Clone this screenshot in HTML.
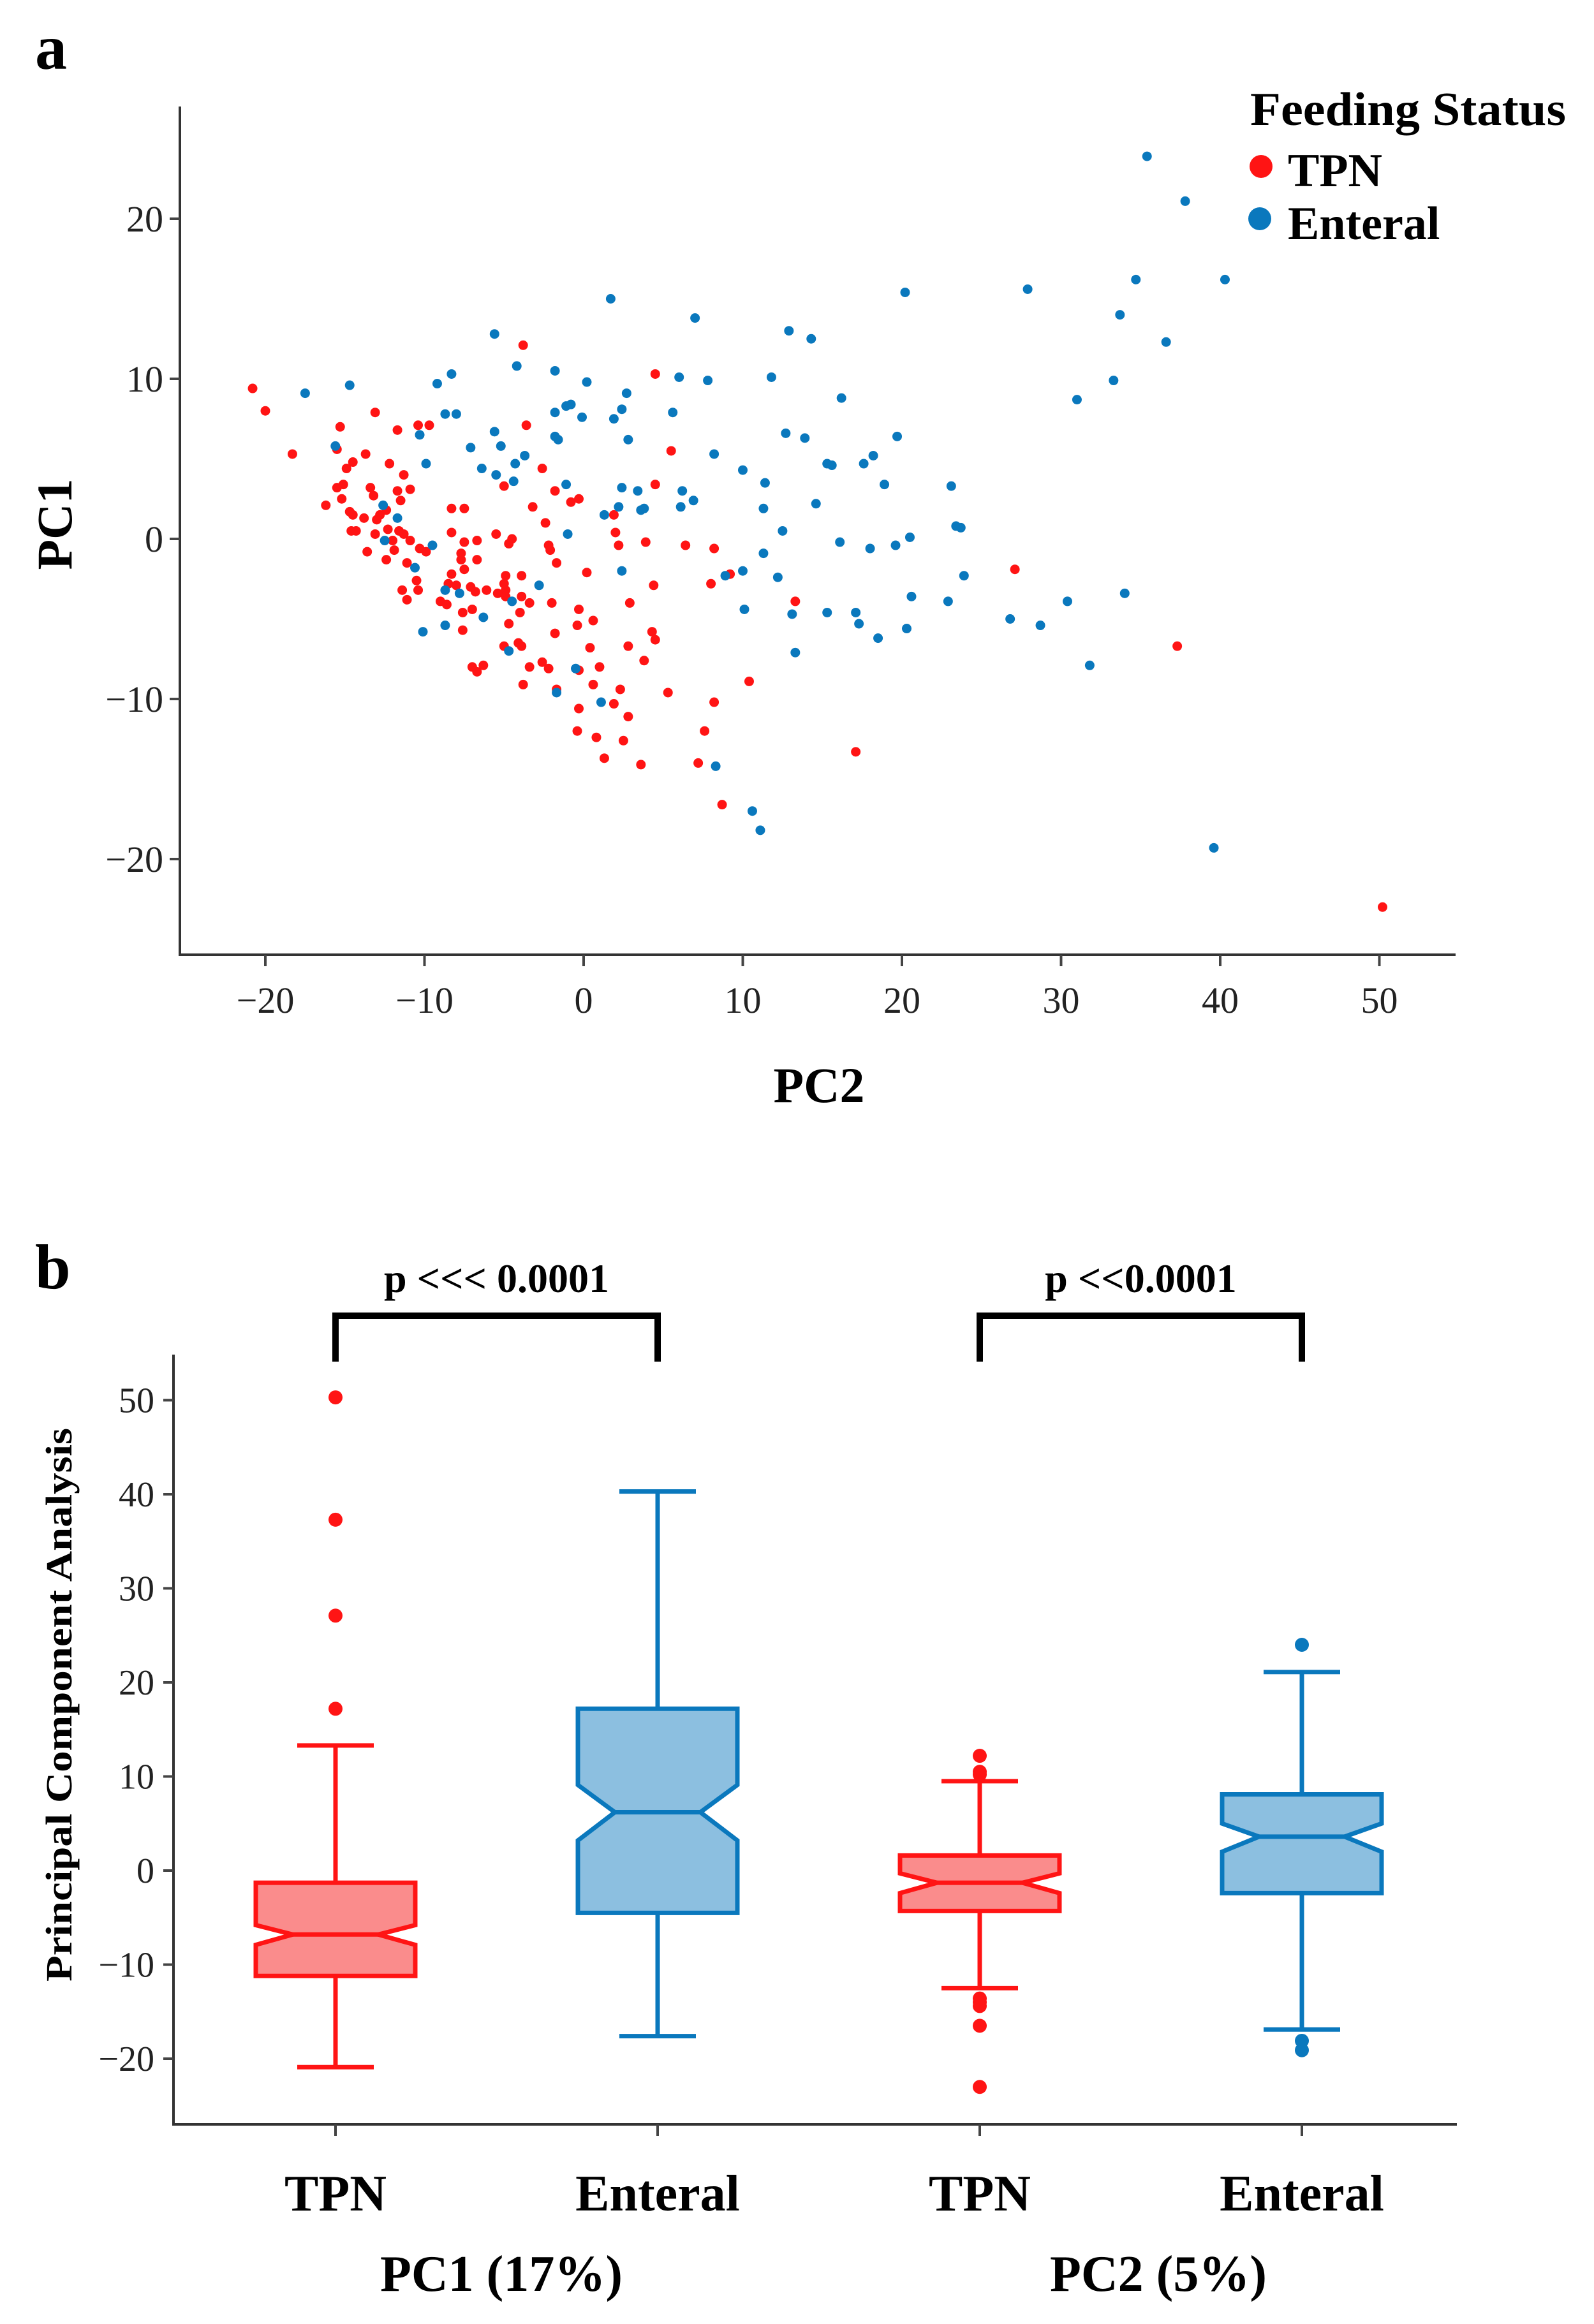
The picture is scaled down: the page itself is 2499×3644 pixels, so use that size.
<!DOCTYPE html>
<html><head><meta charset="utf-8"><style>
html,body{margin:0;padding:0;background:#fff;}
svg{display:block;font-family:"Liberation Serif",serif;}
</style></head><body>
<svg id="fig" width="2499" height="3644" viewBox="0 0 2499 3644" xmlns="http://www.w3.org/2000/svg">
<rect width="2499" height="3644" fill="#fff"/>
<g id="pa"></g>
<g id="pb"></g>
</svg>
<script>
// ---------- Panel a data ----------
const tpnX = [-20.8,-20.0,-3.8,4.5,-13.1,-18.3,-15.3,-11.7,-10.4,-9.7,-3.6,-15.5,-13.7,-14.5,-14.9,-12.2,-11.3,-11.7,-10.9,-5.0,-2.6,5.5,4.5,-1.8,-16.2,-15.5,-15.1,-15.2,-13.4,-13.2,-14.7,-14.5,-13.8,-12.8,-13.0,-11.5,-12.4,-8.3,-7.5,-3.2,-0.3,-0.8,-2.4,1.9,-14.6,-14.3,-13.1,-12.3,-11.6,-11.3,-12.0,-10.9,-8.3,-5.5,-4.5,-6.7,-7.5,-4.7,-2.2,-2.1,2.0,2.2,3.9,6.4,8.2,-13.6,-11.9,-10.3,-9.9,-7.7,-7.7,-6.7,-12.4,-11.1,-1.7,0.2,9.2,27.1,-8.3,-7.5,-4.9,-3.9,-10.5,-10.4,-11.4,-8.5,-8.0,-7.1,-5.0,-4.9,-6.8,-6.1,-5.4,-3.9,-4.9,-11.1,-9.0,-8.6,4.4,8.0,13.3,2.9,-3.4,-2.0,-0.3,-4.0,-7.6,-7.0,-7.6,-1.8,0.6,-0.4,-4.7,-4.1,-3.9,4.3,4.5,0.4,2.8,3.8,-2.6,-2.2,-3.4,-7.0,-6.3,-6.7,1.0,-0.3,-3.8,-1.7,0.6,2.3,5.3,10.4,37.3,-0.3,1.9,8.2,2.8,-0.4,0.8,2.5,7.6,17.1,1.3,3.6,7.2,8.7,50.2,-5.0];
const tpnY = [9.4,8.0,12.1,10.3,7.9,5.3,7.0,6.8,7.1,7.1,7.1,5.6,5.3,4.8,4.4,4.7,4.0,3.0,3.1,3.3,4.4,5.5,3.4,3.0,2.1,3.2,3.4,2.5,3.2,2.7,1.7,1.5,1.3,1.5,1.2,2.4,1.8,1.9,1.9,2.0,2.5,2.3,1.0,1.5,0.5,0.5,0.3,0.6,0.5,0.3,-0.1,-0.1,0.4,0.3,0.0,-0.1,-0.2,-0.3,-0.4,-0.7,0.4,-0.4,-0.2,-0.4,-0.6,-0.8,-0.7,-0.6,-0.8,-0.9,-1.3,-1.3,-1.3,-1.5,-1.5,-2.1,-2.2,-1.9,-2.2,-1.9,-2.3,-2.3,-2.6,-3.2,-3.2,-2.8,-2.9,-3.0,-2.8,-3.2,-3.3,-3.2,-3.4,-3.6,-3.6,-3.8,-3.9,-4.1,-2.9,-2.8,-3.9,-4.0,-4.0,-4.0,-4.4,-4.6,-4.6,-4.4,-5.7,-5.9,-5.1,-5.4,-5.3,-6.5,-6.7,-5.8,-6.3,-6.8,-6.7,-7.6,-7.7,-8.1,-8.0,-8.0,-7.9,-8.3,-8.0,-8.2,-9.1,-9.4,-9.1,-9.4,-9.6,-8.9,-6.7,-10.6,-10.3,-10.2,-11.1,-12.0,-12.4,-12.6,-12.0,-13.3,-13.7,-14.1,-14.0,-16.6,-23.0,-6.7];
const entX = [35.4,37.8,34.7,40.3,27.9,20.2,1.7,7.0,33.7,36.6,12.9,14.3,-5.6,-8.3,-4.2,-1.8,-9.2,0.2,6.0,7.8,11.8,33.3,-17.5,-14.7,31.0,16.2,2.7,-1.1,-0.8,-1.8,2.4,1.9,-0.1,5.6,-8.7,-8.0,-5.6,12.7,13.9,19.7,-1.8,-1.6,2.8,-15.6,-10.3,-7.1,-5.2,8.2,18.2,15.3,15.6,17.6,-9.9,-4.3,-3.7,-6.4,-5.5,-4.4,10.0,11.4,18.9,23.1,-1.1,2.4,3.4,6.2,6.9,6.1,2.2,3.8,3.6,11.3,14.6,1.3,-12.6,-11.7,23.4,23.7,12.5,-1.0,20.5,16.1,19.6,18.0,-12.5,-9.5,11.3,-10.6,2.4,8.9,10.0,12.2,23.9,34.0,20.6,22.9,30.4,-2.8,-8.7,-7.8,-4.5,10.1,13.1,15.3,17.1,17.3,26.8,28.7,20.3,18.5,-6.3,-8.7,-10.1,-4.7,13.3,31.8,-0.5,-1.7,1.1,8.3,10.6,11.1,39.6];
const entY = [23.9,21.1,16.2,16.2,15.6,15.4,15.0,13.8,14.0,12.3,13.0,12.5,12.8,10.3,10.8,10.5,9.7,9.8,10.1,9.9,10.1,9.9,9.1,9.6,8.7,8.8,9.1,8.3,8.4,7.9,8.1,7.5,7.6,7.9,7.8,7.8,6.7,6.6,6.3,6.4,6.4,6.2,6.2,5.8,6.5,5.7,5.8,5.3,5.2,4.7,4.6,4.7,4.7,4.7,5.2,4.4,4.0,3.6,4.3,3.5,3.4,3.3,3.4,3.2,3.0,3.0,2.4,2.0,2.0,1.9,1.8,1.9,2.2,1.5,2.1,1.3,0.8,0.7,0.5,0.3,0.1,-0.2,-0.4,-0.6,-0.1,-0.4,-0.9,-1.8,-2.0,-2.3,-2.0,-2.4,-2.3,-3.4,-3.6,-3.9,-3.9,-2.9,-3.2,-3.4,-3.9,-4.4,-4.7,-4.6,-4.6,-5.3,-5.0,-5.4,-5.6,-6.2,-4.9,-5.4,-5.8,-7.0,-7.1,-7.9,-8.1,-9.6,-10.2,-14.2,-17.0,-18.2,-19.3];
const scatterXTicks = [-20,-10,0,10,20,30,40,50];
const scatterYTicks = [20,10,0,-10,-20];

// ---------- Panel b data ----------
const boxCategories = ["TPN","Enteral","TPN","Enteral"];
const boxQ1 = [-11.2,-4.5,-4.3,-2.4];
const boxQ3 = [-1.3,17.2,1.6,8.1];
const boxMedian = [-6.8,6.2,-1.3,3.6];
const boxNotchLo = [-7.9,3.2,-2.4,2.0];
const boxNotchHi = [-5.8,9.1,-0.3,5.0];
const boxWhiskLo = [-20.9,-17.6,-12.5,-16.9];
const boxWhiskHi = [13.3,40.3,9.5,21.1];
const boxOutliers = [[17.2,27.1,37.3,50.3],[],[12.2,10.5,10.2,-13.6,-14.0,-14.4,-16.5,-23.0],[24.0,-18.1,-19.1]];
const boxYTicks = [50,40,30,20,10,0,-10,-20];

const NS = "http://www.w3.org/2000/svg";
function mk(parent, tag, attrs, text){
  const e = document.createElementNS(NS, tag);
  for (const k in attrs) e.setAttribute(k, attrs[k]);
  if (text !== undefined) e.textContent = text;
  parent.appendChild(e);
  return e;
}
const RED = "#ff1414", BLUE = "#0a78bd";

// ===== Panel a =====
const pa = document.getElementById('pa');
const ax = v => 915 + 24.95 * v;
const ay = v => 845 - 25.1 * v;
let t;
t = mk(pa,'text',{x:55,y:108,'font-size':100,'font-weight':'bold'},'a');


let l = mk(pa,'path',{d:'M282 167 V1497 H2282',fill:'none',stroke:'#333','stroke-width':4});


scatterXTicks.forEach(v=>{
  const tk = mk(pa,'line',{x1:ax(v),x2:ax(v),y1:1497,y2:1515,stroke:'#444','stroke-width':4});
  
  
  const lb = mk(pa,'text',{x:ax(v),y:1588,'font-size':58,'text-anchor':'middle',fill:'#222'}, v<0 ? '\u2212'+(-v) : String(v));
  
  
});
scatterYTicks.forEach(v=>{
  const tk = mk(pa,'line',{x1:266,x2:282,y1:ay(v),y2:ay(v),stroke:'#444','stroke-width':4});
  
  
  const lb = mk(pa,'text',{x:256,y:ay(v)+20,'font-size':58,'text-anchor':'end',fill:'#222'}, v<0 ? '\u2212'+(-v) : String(v));
  
  
});
t = mk(pa,'text',{x:1284,y:1728,'font-size':78,'font-weight':'bold','text-anchor':'middle'},'PC2');


t = mk(pa,'text',{x:0,y:0,'font-size':78,'font-weight':'bold','text-anchor':'middle',transform:'translate(112,822) rotate(-90)'},'PC1');


tpnX.forEach((x,i)=>{
  const c = mk(pa,'circle',{cx:ax(x),cy:ay(tpnY[i]),r:7.5,fill:RED});
  
  
});
entX.forEach((x,i)=>{
  const c = mk(pa,'circle',{cx:ax(x),cy:ay(entY[i]),r:7.5,fill:BLUE});
  
  
});
t = mk(pa,'text',{x:1960,y:196,'font-size':74,'font-weight':'bold',textLength:495,lengthAdjust:'spacingAndGlyphs'},'Feeding Status');


let c = mk(pa,'circle',{cx:1977,cy:261,r:18,fill:RED});


t = mk(pa,'text',{x:2019,y:292,'font-size':74,'font-weight':'bold'},'TPN');


c = mk(pa,'circle',{cx:1975,cy:343,r:18,fill:BLUE});


t = mk(pa,'text',{x:2019,y:375,'font-size':74,'font-weight':'bold'},'Enteral');



// ===== Panel b =====
const pb = document.getElementById('pb');
const catX = i => 526 + 505 * i;
const by = v => 2933 - 14.75 * v;
t = mk(pb,'text',{x:55,y:2020,'font-size':100,'font-weight':'bold'},'b');


l = mk(pb,'path',{d:'M272 2124 V3331 H2284',fill:'none',stroke:'#333','stroke-width':4});


boxYTicks.forEach(v=>{
  const tk = mk(pb,'line',{x1:256,x2:272,y1:by(v),y2:by(v),stroke:'#444','stroke-width':4});
  
  
  const lb = mk(pb,'text',{x:242,y:by(v)+19,'font-size':56,'text-anchor':'end',fill:'#222'}, v<0 ? '\u2212'+(-v) : String(v));
  
  
});
t = mk(pb,'text',{x:0,y:0,'font-size':58,'font-weight':'bold','text-anchor':'middle',transform:'translate(112,2673) rotate(-90)',textLength:868,lengthAdjust:'spacingAndGlyphs'},'Principal Component Analysis');


boxCategories.forEach((name,i)=>{
  const cx = catX(i);
  const stroke = i%2===0 ? RED : BLUE;
  const fill = i%2===0 ? '#fa8c8c' : '#8cbfe0';
  const hw = 125, ins = 58, cap = 60;
  const tk = mk(pb,'line',{x1:cx,x2:cx,y1:3331,y2:3349,stroke:'#444','stroke-width':4});
  
  
  const g = mk(pb,'g',{});
  
  
  mk(g,'line',{x1:cx,x2:cx,y1:by(boxWhiskHi[i]),y2:by(boxQ3[i]),stroke:stroke,'stroke-width':7});
  mk(g,'line',{x1:cx,x2:cx,y1:by(boxQ1[i]),y2:by(boxWhiskLo[i]),stroke:stroke,'stroke-width':7});
  mk(g,'line',{x1:cx-cap,x2:cx+cap,y1:by(boxWhiskHi[i]),y2:by(boxWhiskHi[i]),stroke:stroke,'stroke-width':7});
  mk(g,'line',{x1:cx-cap,x2:cx+cap,y1:by(boxWhiskLo[i]),y2:by(boxWhiskLo[i]),stroke:stroke,'stroke-width':7});
  const d = `M${cx-hw} ${by(boxQ3[i])} H${cx+hw} V${by(boxNotchHi[i])} L${cx+hw-ins} ${by(boxMedian[i])} L${cx+hw} ${by(boxNotchLo[i])} V${by(boxQ1[i])} H${cx-hw} V${by(boxNotchLo[i])} L${cx-hw+ins} ${by(boxMedian[i])} L${cx-hw} ${by(boxNotchHi[i])} Z`;
  mk(g,'path',{d:d,fill:fill,stroke:stroke,'stroke-width':7,'stroke-linejoin':'miter'});
  mk(g,'line',{x1:cx-hw+ins,x2:cx+hw-ins,y1:by(boxMedian[i]),y2:by(boxMedian[i]),stroke:stroke,'stroke-width':7});
  boxOutliers[i].forEach(v=>{
    const o = mk(pb,'circle',{cx:cx,cy:by(v),r:11,fill:stroke});
    
    
  });
  const lb = mk(pb,'text',{x:cx,y:3466,'font-size':80,'font-weight':'bold','text-anchor':'middle'},name);
  
  
});
t = mk(pb,'text',{x:786,y:3592,'font-size':80,'font-weight':'bold','text-anchor':'middle'},'PC1 (17%)');


t = mk(pb,'text',{x:1816,y:3592,'font-size':80,'font-weight':'bold','text-anchor':'middle'},'PC2 (5%)');


// significance brackets
[[0,1,'p <<< 0.0001'],[2,3,'p <<0.0001']].forEach(([a,b,txt])=>{
  const x1 = catX(a), x2 = catX(b);
  const br = mk(pb,'path',{d:`M${x1} 2135 V2063 H${x2} V2135`,fill:'none',stroke:'#000','stroke-width':10});
  
  
  const pt = mk(pb,'text',{x:(x1+x2)/2,y:2026,'font-size':64,'font-weight':'bold','text-anchor':'middle'},txt);
  
  
});
</script>
</body></html>
